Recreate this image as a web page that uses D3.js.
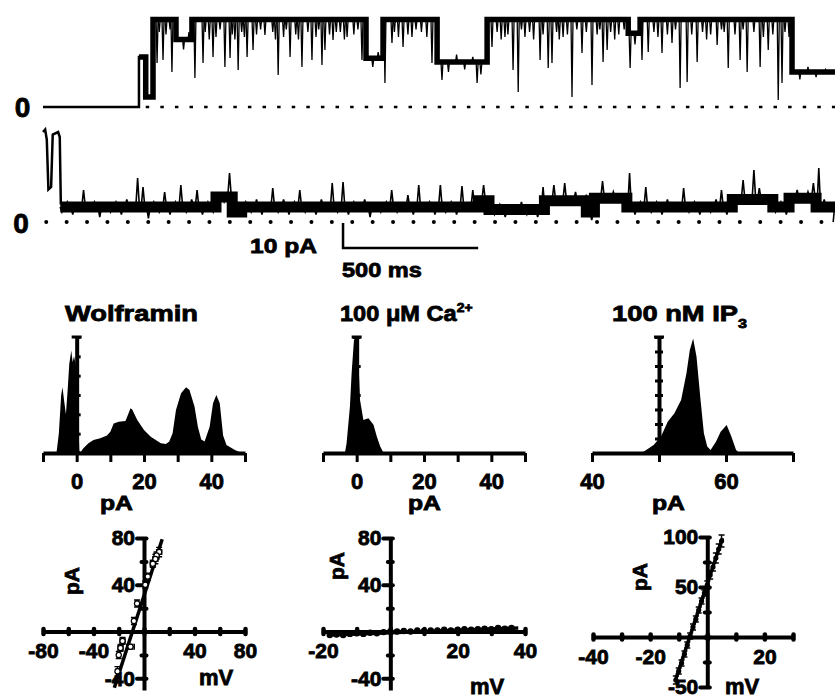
<!DOCTYPE html>
<html>
<head>
<meta charset="utf-8">
<script src="https://cdn.jsdelivr.net/npm/d3@7"></script>
<style>
  body { margin: 0; background: #fff; }
  svg { display: block; font-family: "Liberation Sans", Arial, sans-serif; font-weight: bold; }
  svg text { stroke: #000; stroke-width: 0.8px; }
</style>
</head>
<body>
<svg id="fig" width="835" height="698"></svg>
<script>
// ---------- single-channel traces (time in ms, current in pA) ----------
// trace 1: dwell levels [start, end, pA]
const trace1Levels = [
  [0, 355, 0], [355, 380, 20], [380, 407, 4], [407, 492, 35], [492, 551, 27],
  [551, 1195, 35], [1195, 1258, 19.5], [1258, 1458, 35], [1458, 1643, 18],
  [1643, 2165, 35], [2165, 2209, 29.5], [2209, 2771, 35], [2771, 2930, 14]
];
// brief excursions [ms, pA reached]
const trace1Spikes = [
  [422, 17.6], [444, 18.8], [477, 14], [562, 11.6], [592, 17.6], [629, 20], [673, 16], [692, 19.6],
  [722, 14.8], [755, 20], [777, 22.8], [821, 28.8], [870, 12.8], [914, 20], [958, 16], [995, 18.8],
  [1032, 16.8], [1043, 22.8], [1073, 26.8], [1125, 28], [1180, 18.8], [1265, 9.6], [1291, 25.6],
  [1332, 24], [1365, 28], [1439, 17.6], [1476, 10.8], [1500, 14], [1530, 21], [1560, 15], [1590, 20],
  [1606, 9.6], [1620, 13], [1661, 24], [1709, 28], [1739, 14.8], [1758, 6], [1783, 28], [1839, 18.8],
  [1869, 15.6], [1883, 17.6], [1924, 28], [1957, 4], [1994, 21.6], [2031, 8.8], [2072, 18], [2087, 22.8],
  [2172, 15.6], [2216, 18.8], [2239, 22], [2290, 21.6], [2327, 25.6], [2357, 7.6], [2383, 10], [2420, 18],
  [2494, 24.8], [2535, 15.6], [2579, 18.8], [2605, 14], [2653, 16], [2683, 22.8], [2720, 2.8], [2734, 9.6],
  [430, 30], [455, 29], [470, 31], [520, 23], [540, 30], [600, 30], [615, 27], [640, 28], [655, 31],
  [700, 29], [710, 27], [735, 30], [745, 28], [790, 29], [805, 31], [850, 30], [860, 27], [890, 28],
  [900, 31], [935, 29], [945, 27], [980, 30], [1010, 28], [1020, 31], [1060, 29], [1085, 30], [1100, 30],
  [1115, 27], [1150, 29], [1165, 31], [1220, 16], [1240, 22], [1300, 30], [1315, 28], [1350, 29],
  [1380, 31], [1400, 30], [1420, 28], [1680, 30], [1695, 27], [1720, 29], [1770, 31], [1800, 30],
  [1815, 27], [1850, 29], [1900, 30], [1910, 27], [1940, 29], [1975, 31], [2010, 30], [2050, 29],
  [2060, 31], [2100, 30], [2115, 27], [2130, 29], [2150, 31], [2190, 25], [2260, 30], [2275, 28],
  [2310, 29], [2340, 31], [2400, 29], [2440, 30], [2455, 27], [2470, 29], [2510, 31], [2520, 30],
  [2560, 29], [2590, 31], [2630, 30], [2665, 28], [2700, 29], [2745, 30], [2760, 28],
  [2800, 11], [2830, 16], [2860, 12], [2895, 15]
];

// trace 2: opening burst at the start, then sampled noise
const trace2Start = [[0, 36], [8, 37], [14, 33], [20, 13], [30, 14], [36, 35], [56, 36], [62, 34], [66, 7]];
const trace2NoiseStart = 70;
const trace2NoiseStep = 20;
const trace2Noise = [
  4, 8, 3, 7, 12.8, 5, 8, 2, 7, 4,
  8, 3, 9, 5, 17.6, 14, 1.5, 8, 4, 12,
  3, 8, 14.8, 4, 9, 12.8, 3, 8, 4, 11,
  8, 19.6, 2.5, 3, 8, 4, 9, 3, 7, 13.6,
  4, 9, 3, 8, 12.8, 4, 7, 3, 9, 5,
  15.6, 4, 16, 3, 8, 5, 9, 2, 7, 4,
  8, 12.8, 4, 7, 10.8, 3, 14.8, 5, 8, 3,
  14.8, 4, 8, 3, 14.4, 6, 12.8, 9, 14.8, 10,
  3, 7, 2, 6, 4, 8, 3, 6, 2, 14,
  8, 14.8, 9, 15.6, 8, 12, 7, 11, 0.8, 6,
  16.4, 10, 12, 8, 11, 19.6, 3, 8, 14, 4,
  8, 3, 9, 5, 7, 13.6, 4, 8, 3, 7,
  4, 9, 12.8, 3, 8, 10, 16.8, 9, 20.8, 13.6,
  10, 8, 4, 8, 3, 6, 12.8, 10, 12, 15.6,
  21.6, 9, 6, 8
];
const trace2Levels = [
  [64, 640, 6], [640, 700, 10], [700, 735, 4], [735, 1610, 6], [1610, 1650, 8.5],
  [1650, 1855, 5], [1855, 2010, 8.5], [2010, 2040, 4], [2040, 2160, 9.5], [2160, 2550, 6],
  [2550, 2700, 9], [2700, 2760, 6], [2760, 2860, 9.5], [2860, 2930, 6]
];
const scaleBarMs = 500, scaleBarPA = 10;
const scaleBarAt = [1110, -10.4];   // corner of the bar, in trace-2 units

// ---------- amplitude histograms ----------
const wolfHistPA = [-6, -5.3, -4.6, -4.2, -3.8, -3.2, -2.7, -2.2, -1.6, -1.2, -0.8, -0.3, 0.2, 0.5, 0.8,
  1.2, 2, 3.5, 5, 7, 9, 10, 11, 12.5, 14.5, 15.5, 16, 16.5, 18, 20, 22, 25, 26.5, 27.5, 28.5,
  29.5, 31, 32.5, 33.5, 35, 36, 37, 38, 39.5, 40.5, 41.5, 42.5, 43.5, 44.5, 47, 49];
const wolfHistCount = [0, 1.0, 3.0, 3.4, 2.8, 2.0, 3.2, 4.6, 5.3, 4.7, 5.0, 4.6, 4.4, 1.5, 0.1,
  0.05, 0.24, 0.5, 0.67, 0.76, 0.9, 1.1, 1.53, 1.62, 1.65, 2.1, 2.31, 2.25, 1.71, 1.19, 0.84, 0.5, 0.47, 0.59, 1.02,
  2.22, 3.09, 3.4, 3.26, 2.4, 1.36, 0.7, 0.6, 1.36, 2.57, 3.0, 2.57, 0.9, 0.41, 0.16, 0];

const caHistPA = [-3.5, -3, -2, -1.5, -0.8, -0.3, 0.3, 0.6, 1, 2, 3.5, 5, 6, 7, 8];
const caHistCount = [0, 0.33, 1.6, 2.75, 3.9, 4.0, 3.6, 2.98, 1.83, 1.14, 1.2, 0.97, 0.56, 0.22, 0];

const ip3HistPA = [46, 47.7, 49.2, 50.3, 51.3, 52.3, 53.3, 54.1, 54.6, 55.1, 55.6, 56.2, 56.7, 57.2,
  57.7, 58.5, 59.2, 60.1, 60.8, 61.5, 62];
const ip3HistCount = [0, 0.09, 0.55, 1.13, 2.16, 2.74, 3.66, 5.5, 7.1, 7.9, 6.64, 3.66, 1.36, 0.44,
  0.2, 0.77, 1.47, 1.93, 1.13, 0.2, 0];

// ---------- current-voltage relations ----------
const wolfMV = [12, 10, 9, 7, 3, 1, -5.5, -8, -10.7, -18.6, -17, -20, -21];
const wolfPA = [68, 65, 62, 58, 47, 40, 24, 9, -13, -14, -8, -20, -34];
const wolfErrMV = [2, 2, 2, 2, 1, 1, 1, 1, 3, 2, 2, 1, 1];
const wolfErrPA = [4, 3, 4, 3, 3, 3, 3, 3, 2, 3, 3, 3, 4];
const wolfFitMV = [-23.5, 14.4], wolfFitPA = [-48, 79];

const caMV = [-18, -16, -14, -12, -10, -8, -6, -4, -2, 0, 2, 4, 6, 8, 10, 12, 14, 16, 18, 20, 22, 24, 26, 28, 30, 32, 34, 36];
const caPA = [-3, -2.5, -3, -2, -1.5, -2, -1, -1.5, -0.5, 0, 0, 0.5, 0, 1, 0.5, 1, 1, 1.5, 1, 1.5, 2, 1.5, 2, 2.5, 2, 3, 2.5, 3];
const caFitMV = [-18, 38], caFitPA = [-3, 3];

const ip3MV = [-11, -10, -9, -8, -7, -6, -5, -4, -3, -2, -1, 0, 1, 2, 3, 4, 5];
const ip3PA = [-43, -34, -26, -17, -8, 1, 10, 18, 27, 36, 44, 52, 62, 70, 79, 88, 96];
const ip3ErrPA = [4, 3, 3, 3, 3, 3, 3, 3, 3, 3, 3, 4, 4, 4, 5, 5, 6];
const ip3FitMV = [-11, 5.3], ip3FitPA = [-42, 99];

const FONT = '"Liberation Sans", Arial, sans-serif';
const svg = d3.select('#fig');

// text stretched horizontally to a given width
function fitText(parent, left, baseline, width, size, build) {
  const g = parent.append('g');
  const t = g.append('text').attr('font-size', size);
  build(t);
  const w = t.node().getBBox().width;
  g.attr('transform', `translate(${left},${baseline}) scale(${width / w},1)`);
  return t;
}

function styleAxis(g, size) {
  g.attr('font-family', FONT).attr('font-size', size).attr('font-weight', 'bold');
  g.select('.domain').attr('stroke-width', 4).attr('stroke', '#000');
  g.selectAll('.tick text').attr('fill', '#000');
}

// ---------- traces ----------
function draw_traces() {
  const xT = d3.scaleLinear().domain([0, 2930]).range([43, 835]);
  const yT1 = d3.scaleLinear().domain([0, 10]).range([107, 82]);
  const yT2 = d3.scaleLinear().domain([0, 10]).range([222, 197]);
  const stepPts = levels => levels.flatMap(([a, b, v]) => [[a, v], [b, v]]);
  const levelAt = (levels, t) => { const l = levels.find(d => t >= d[0] && t < d[1]); return l ? l[2] : 0; };
  const spikePath = (levels, y, half) => d => {
    const lv = y(levelAt(levels, d[0])), x = xT(d[0]);
    return `M${x - half},${lv}L${x},${y(d[1])}L${x + half},${lv}`;
  };

  const g = svg.append('g').attr('fill', 'none').attr('stroke', '#000');

  // trace 1
  g.append('line')
    .attr('x1', xT(380)).attr('x2', xT(2930)).attr('y1', yT1(0)).attr('y2', yT1(0))
    .attr('stroke-width', 2.5).attr('stroke-dasharray', '3.5 11.1');
  g.append('path')
    .datum(stepPts(trace1Levels))
    .attr('d', d3.line().x(d => xT(d[0])).y(d => yT1(d[1])))
    .attr('stroke-width', 2.5);
  g.append('path')
    .datum(stepPts(trace1Levels.filter(d => d[2] > 0)))
    .attr('d', d3.line().x(d => xT(d[0])).y(d => yT1(d[1])))
    .attr('stroke-width', 5.5);
  g.selectAll('.spike1').data(trace1Spikes).join('path')
    .attr('class', 'spike1')
    .attr('d', spikePath(trace1Levels, yT1, 1))
    .attr('stroke-width', 1.3);

  // trace 2
  g.append('line')
    .attr('x1', xT(12)).attr('x2', 835).attr('y1', yT2(0)).attr('y2', yT2(0))
    .attr('stroke-width', 4).attr('stroke-linecap', 'round').attr('stroke-dasharray', '0 20.4');
  g.append('path')
    .datum(trace2Start)
    .attr('d', d3.line().x(d => xT(d[0])).y(d => yT2(d[1])))
    .attr('stroke-width', 2.5);
  g.append('path')
    .datum(stepPts(trace2Levels))
    .attr('d', d3.line().x(d => xT(d[0])).y(d => yT2(d[1])))
    .attr('stroke-width', 11);
  const noisePts = trace2Noise.map((v, i) => [trace2NoiseStart + i * trace2NoiseStep, v]);
  g.selectAll('.spike2').data(noisePts).join('path')
    .attr('class', 'spike2')
    .attr('d', spikePath(trace2Levels, yT2, 1.8))
    .attr('stroke-width', 1.6);

  // scale bar
  const [sx, sy] = scaleBarAt;
  g.append('path')
    .attr('d', `M${xT(sx)},${yT2(sy + scaleBarPA)}V${yT2(sy)}H${xT(sx + scaleBarMs)}`)
    .attr('stroke-width', 2.5);

  // zero labels
  const tl = svg.append('g').attr('font-size', 28).attr('text-anchor', 'middle');
  tl.append('text').attr('x', 22.5).attr('y', yT1(0) + 10).text('0');
  tl.append('text').attr('x', 21).attr('y', yT2(0) + 11).text('0');

  fitText(svg, 250, 253, 67, 21, t => t.text('10 pA'));
  fitText(svg, 342, 277, 80, 21, t => t.text('500 ms'));
}

// ---------- histograms ----------
function draw_hist(p) {
  const x = d3.scaleLinear().domain(p.xDomain).range(p.xRange);
  const y = d3.scaleLinear().domain([0, p.yMax]).range([453, 337]);
  const g = svg.append('g');
  const pts = p.pa.map((v, i) => [v, p.count[i]]);
  g.append('path').datum(pts)
    .attr('d', d3.area().x(d => x(d[0])).y0(y(0)).y1(d => y(d[1])))
    .attr('fill', '#000');

  const xAxis = d3.axisBottom(x).tickValues(p.xTicks)
    .tickSizeInner(9).tickSizeOuter(0).tickPadding(11)
    .tickFormat(d => p.xLabels.includes(d) ? String(d) : '');
  const gx = g.append('g').attr('transform', `translate(0,${y(0)})`).call(xAxis);
  styleAxis(gx, 22);
  gx.selectAll('.tick line').attr('stroke', '#000').attr('stroke-width', 3);

  const yAxis = d3.axisRight(y).tickValues(d3.range(0, p.yMax + 1))
    .tickSizeInner(4).tickSizeOuter(0).tickFormat('');
  const gy = g.append('g').attr('transform', `translate(${x(p.yAxisAt)},0)`).call(yAxis);
  styleAxis(gy, 22);
  gy.selectAll('.tick line').attr('x1', -p.tickLeft).attr('stroke', '#000').attr('stroke-width', 3);
  gy.append('line').attr('x1', -5).attr('x2', 5).attr('y1', y(p.yMax)).attr('y2', y(p.yMax))
    .attr('stroke', '#000').attr('stroke-width', 3);

  fitText(svg, p.pALeft, 510, 33, 20, t => t.text('pA'));
}

// ---------- I-V plots ----------
function draw_iv(p) {
  const x = d3.scaleLinear().domain(p.xDomain).range(p.xRange);
  const y = d3.scaleLinear().domain(p.yDomain).range(p.yRange);
  const g = svg.append('g');

  const xAxis = d3.axisBottom(x).tickValues(p.xTicks)
    .tickSizeInner(3).tickSizeOuter(0).tickPadding(9)
    .tickFormat(d => p.xLabels.includes(d) ? String(d) : '');
  const gx = g.append('g').attr('transform', `translate(0,${y(0)})`).call(xAxis);
  styleAxis(gx, 21);
  gx.selectAll('.tick line').attr('y1', -2.5).attr('y2', 2.5)
    .attr('stroke', '#000').attr('stroke-width', 4.5).attr('stroke-linecap', 'round');

  const yAxis = d3.axisLeft(y).tickValues(p.yTicks)
    .tickSizeInner(7).tickSizeOuter(0).tickPadding(2)
    .tickFormat(d => p.yLabels.includes(d) ? String(d) : '');
  const gy = g.append('g').attr('transform', `translate(${x(0)},0)`).call(yAxis);
  styleAxis(gy, 21);
  gy.selectAll('.tick line').attr('x1', 2.5).attr('x2', d => p.yLabels.includes(d) ? -7 : -2.5)
    .attr('stroke', '#000').attr('stroke-width', 4).attr('stroke-linecap', 'round');

  g.append('path')
    .datum(p.fitMV.map((v, i) => [v, p.fitPA[i]]))
    .attr('d', d3.line().x(d => x(d[0])).y(d => y(d[1])))
    .attr('stroke', '#000').attr('stroke-width', 3.5).attr('fill', 'none');

  const pts = p.mv.map((v, i) => ({ mv: v, pa: p.pa[i],
    ex: p.errMV ? p.errMV[i] : 0, ey: p.errPA ? p.errPA[i] : 0 }));
  const eb = g.append('g').attr('stroke', '#000').attr('stroke-width', 1.4);
  pts.forEach(d => {
    if (d.ey) {
      eb.append('path').attr('d',
        `M${x(d.mv)},${y(d.pa - d.ey)}V${y(d.pa + d.ey)}` +
        `M${x(d.mv) - 3},${y(d.pa - d.ey)}h6M${x(d.mv) - 3},${y(d.pa + d.ey)}h6`);
    }
    if (d.ex) {
      eb.append('path').attr('d',
        `M${x(d.mv - d.ex)},${y(d.pa)}H${x(d.mv + d.ex)}` +
        `M${x(d.mv - d.ex)},${y(d.pa) - 3}v6M${x(d.mv + d.ex)},${y(d.pa) - 3}v6`);
    }
  });
  g.selectAll('.pt').data(pts).join('circle')
    .attr('class', 'pt')
    .attr('cx', d => x(d.mv)).attr('cy', d => y(d.pa))
    .attr('r', p.r)
    .attr('fill', p.open ? '#fff' : '#000')
    .attr('stroke', '#000').attr('stroke-width', 1.2);

  svg.append('text').attr('font-size', 21).attr('text-anchor', 'middle')
    .attr('transform', `translate(${p.pALabel[0]},${p.pALabel[1]}) rotate(-90)`)
    .attr('dy', '0.35em').text('pA');
  svg.append('text').attr('font-size', 22).attr('text-anchor', 'middle')
    .attr('x', p.mVLabel[0]).attr('y', p.mVLabel[1]).text('mV');
}

function build_figure() {
  draw_traces();

  // panel titles
  fitText(svg, 65, 321, 133, 22, t => t.text('Wolframin'));
  fitText(svg, 340, 321, 133, 22, t => {
    t.append('tspan').text('100 \u03bcM Ca');
    t.append('tspan').attr('font-size', 13).attr('dy', -9).text('2+');
  });
  fitText(svg, 612, 321, 135, 22, t => {
    t.append('tspan').text('100 nM IP');
    t.append('tspan').attr('font-size', 13).attr('dy', 7).text('3');
  });

  draw_hist({ pa: wolfHistPA, count: wolfHistCount, xDomain: [-10, 50], xRange: [43, 245],
    xTicks: [-10, 0, 10, 20, 30, 40, 50], xLabels: [0, 20, 40], yMax: 6, yAxisAt: 0, tickLeft: 0, pALeft: 100 });
  draw_hist({ pa: caHistPA, count: caHistCount, xDomain: [-10, 50], xRange: [323, 525],
    xTicks: [-10, 0, 10, 20, 30, 40, 50], xLabels: [0, 20, 40], yMax: 4, yAxisAt: 0, tickLeft: 4, pALeft: 408 });
  draw_hist({ pa: ip3HistPA, count: ip3HistCount, xDomain: [40, 70], xRange: [592, 793],
    xTicks: [40, 50, 60, 70], xLabels: [40, 60], yMax: 8, yAxisAt: 50, tickLeft: 4, pALeft: 652 });

  draw_iv({ mv: wolfMV, pa: wolfPA, errMV: wolfErrMV, errPA: wolfErrPA, fitMV: wolfFitMV, fitPA: wolfFitPA,
    xDomain: [-80, 80], xRange: [43, 245], yDomain: [-50, 80], yRange: [690, 538],
    xTicks: [-80, -60, -40, -20, 0, 20, 40, 60, 80], xLabels: [-80, -40, 40, 80],
    yTicks: [-40, -20, 0, 20, 40, 60, 80], yLabels: [-40, 40, 80],
    r: 2.6, open: true, pALabel: [72, 581], mVLabel: [216, 685] });
  draw_iv({ mv: caMV, pa: caPA, fitMV: caFitMV, fitPA: caFitPA,
    xDomain: [-20, 40], xRange: [323, 525], yDomain: [-50, 80], yRange: [690, 538],
    xTicks: [-20, -10, 0, 10, 20, 30, 40], xLabels: [-20, 20, 40],
    yTicks: [-40, -20, 0, 20, 40, 60, 80], yLabels: [-40, 40, 80],
    r: 2.6, open: false, pALabel: [337, 566], mVLabel: [487, 694] });
  draw_iv({ mv: ip3MV, pa: ip3PA, errPA: ip3ErrPA, fitMV: ip3FitMV, fitPA: ip3FitPA,
    xDomain: [-40, 30], xRange: [593, 793], yDomain: [-50, 100], yRange: [687, 537],
    xTicks: [-40, -30, -20, -10, 0, 10, 20, 30], xLabels: [-40, -20, 20],
    yTicks: [-50, -25, 0, 25, 50, 75, 100], yLabels: [-50, 50, 100],
    r: 2, open: false, pALabel: [640, 577], mVLabel: [742, 694] });
}

build_figure();
</script>
</body>
</html>
